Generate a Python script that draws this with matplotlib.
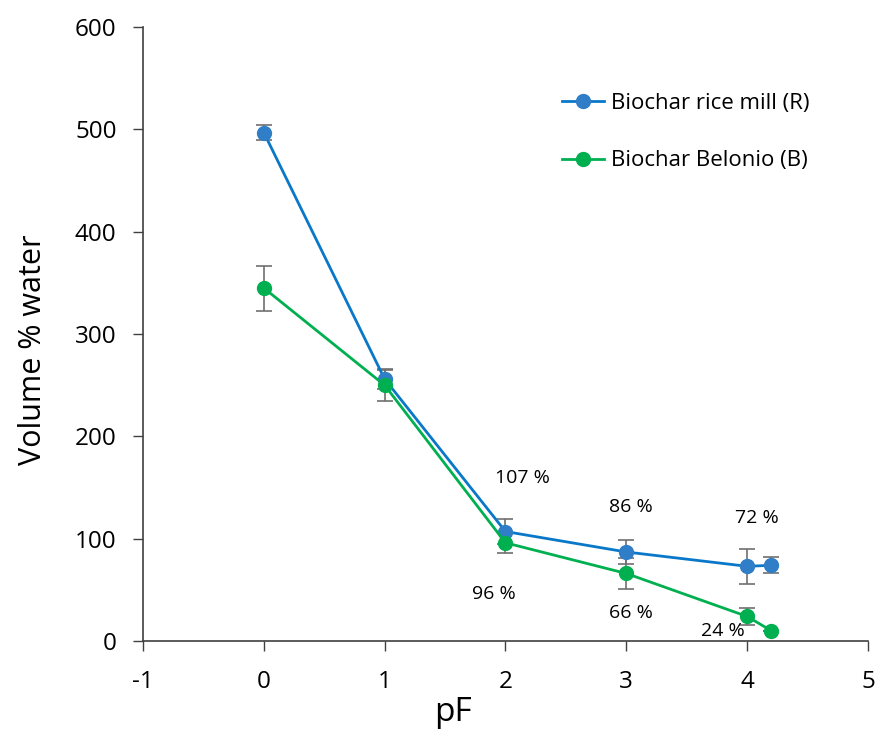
import matplotlib
matplotlib.use("Agg")
import matplotlib.pyplot as plt

pf_r = [0, 1, 2, 3, 4, 4.2]
vol_r = [497, 256, 107, 87, 73, 74]
err_r = [7, 10, 12, 12, 17, 8]

pf_b = [0, 1, 2, 3, 4, 4.2]
vol_b = [345, 250, 96, 66, 24, 10]
err_b = [22, 15, 10, 15, 8, 0]

labels = ["107 %", "86 %", "72 %", "96 %", "66 %", "24 %"]
label_x = [2.14, 3.04, 4.08, 1.9, 3.04, 3.8]
label_y = [159, 131, 120, 46, 27, 10]

plt.rcParams['font.family'] = ['Open Sans', 'DejaVu Sans']
plt.rcParams['axes.unicode_minus'] = False

fig = plt.figure(figsize=(8.75, 7.33), dpi=100)
ax = fig.add_axes([0.1634, 0.1255, 0.8286, 0.8375])

blue = "#2F7EC7"
green = "#00B050"
ecol = "#707070"
axcol = "#404040"

ax.errorbar(pf_r, vol_r, yerr=err_r, fmt='none', ecolor=ecol, elinewidth=1.2, capsize=6, capthick=1.2, zorder=2)
ax.errorbar(pf_b, vol_b, yerr=err_b, fmt='none', ecolor=ecol, elinewidth=1.2, capsize=6, capthick=1.2, zorder=2)
ax.plot(pf_r, vol_r, '-o', color="#0A78C8", mfc=blue, mec=blue, lw=2, ms=10, label="Biochar rice mill (R)", zorder=3)
ax.plot(pf_b, vol_b, '-o', color=green, mfc=green, mec=green, lw=2, ms=10, label="Biochar Belonio (B)", zorder=3)

for t, x, y in zip(labels, label_x, label_y):
    ax.text(x, y, t, ha='center', va='center', fontsize=14, color='black')

ax.set_xlim(-1, 5)
ax.set_ylim(0, 600)
ax.set_xticks(range(-1, 6))
ax.set_yticks(range(0, 601, 100))
ax.tick_params(axis='both', labelsize=17.5, direction='out', length=7, width=1, color=axcol)
ax.tick_params(axis='x', pad=14)
ax.tick_params(axis='y', pad=12)
ax.spines['top'].set_visible(False)
ax.spines['right'].set_visible(False)
for s in ['left', 'bottom']:
    ax.spines[s].set_color(axcol)
    ax.spines[s].set_linewidth(1.2)
ax.set_xlabel("pF", fontsize=24, labelpad=1)
ax.xaxis.label.set_x(0.428)
ax.set_ylabel("Volume % water", fontsize=22, labelpad=19)
ax.yaxis.label.set_y(0.474)

ax.legend(loc='upper left', bbox_to_anchor=(0.55, 0.925), frameon=False, fontsize=16,
          handlelength=1.9, handletextpad=0.3, labelspacing=1.63)

fig.savefig("out.png", dpi=100)
